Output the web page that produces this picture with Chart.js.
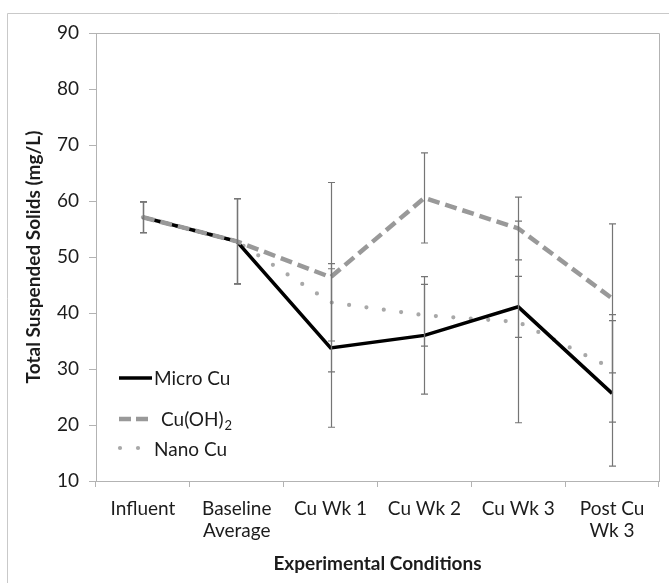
<!DOCTYPE html>
<html>
<head>
<meta charset="utf-8">
<script src="https://cdn.jsdelivr.net/npm/chart.js@4.4.1/dist/chart.umd.min.js"></script>
<style>
  html, body { margin: 0; padding: 0; background: #fff; }
  #wrap { width: 669px; height: 583px; position: relative; }
</style>
</head>
<body>
<div id="wrap"><canvas id="chart" width="669" height="583"></canvas></div>
<script>
// Sampling conditions along the x axis
const categories = ['Influent', ['Baseline', 'Average'], 'Cu Wk 1', 'Cu Wk 2', 'Cu Wk 3', ['Post Cu', 'Wk 3']];

// Mean total suspended solids (mg/L)
const microCu = [57.1, 52.8, 33.75, 36.0, 41.1, 25.65];
const cuOH2   = [57.1, 52.8, 46.4, 60.55, 55.1, 42.6];
const nanoCu  = [57.1, 52.8, 41.9, 39.6, 38.4, 30.1];

// Standard deviations (mg/L)
const microCuErr = [2.75, 7.6, 14.15, 10.5, 5.45, 13.0];
const cuOH2Err   = [2.75, 7.6, 16.9, 8.05, 5.6, 13.3];
const nanoCuErr  = [2.75, 7.6, 6.9, 5.5, 18.0, 9.6];

// Axis ticks
const yMin = 10, yMax = 90, yStep = 10;

const FONT = 'Lato, "Open Sans", sans-serif';
const TEXT = '#1c1c1c';
const AXIS = '#b3b3b3';

// Outer frame plus top/right edges of the plot area
const framePlugin = {
  id: 'frame',
  beforeDraw(chart) {
    const ctx = chart.ctx;
    ctx.save();
    ctx.fillStyle = '#fff';
    ctx.fillRect(0, 0, chart.width, chart.height);
    ctx.strokeStyle = '#c9c9c9';
    ctx.lineWidth = 1;
    ctx.beginPath();
    ctx.moveTo(7.5, chart.height);
    ctx.lineTo(7.5, 13.5);
    ctx.lineTo(chart.width, 13.5);
    ctx.stroke();
    const a = chart.chartArea;
    ctx.strokeStyle = AXIS;
    ctx.beginPath();
    ctx.moveTo(Math.round(a.left) + 0.5, Math.round(a.top) + 0.5);
    ctx.lineTo(Math.round(a.right) + 0.5, Math.round(a.top) + 0.5);
    ctx.lineTo(Math.round(a.right) + 0.5, Math.round(a.bottom) + 0.5);
    ctx.stroke();
    ctx.restore();
  }
};

// Vertical error bars with caps, drawn from each dataset's errors
const errorBarPlugin = {
  id: 'errorBars',
  afterDatasetsDraw(chart) {
    const ctx = chart.ctx;
    const x = chart.scales.x, y = chart.scales.y;
    ctx.save();
    ctx.strokeStyle = '#757575';
    ctx.lineWidth = 1.2;
    chart.data.datasets.forEach(ds => {
      ds.data.forEach((v, i) => {
        const e = ds.errors[i];
        const px = Math.round(x.getPixelForValue(i)) + 0.5;
        const top = y.getPixelForValue(v + e);
        const bot = y.getPixelForValue(v - e);
        ctx.beginPath();
        ctx.moveTo(px, top); ctx.lineTo(px, bot);
        ctx.moveTo(px - 3.5, top); ctx.lineTo(px + 3.5, top);
        ctx.moveTo(px - 3.5, bot); ctx.lineTo(px + 3.5, bot);
        ctx.stroke();
      });
    });
    ctx.restore();
  }
};

// Legend inside the lower-left corner of the plot
const legendPlugin = {
  id: 'innerLegend',
  afterDraw(chart) {
    const ctx = chart.ctx;
    ctx.save();
    ctx.textBaseline = 'middle';
    ctx.fillStyle = TEXT;
    ctx.font = '19px ' + FONT;
    // Micro Cu
    ctx.strokeStyle = '#000';
    ctx.lineWidth = 3.5;
    ctx.beginPath(); ctx.moveTo(119, 378); ctx.lineTo(152, 378); ctx.stroke();
    ctx.fillText('Micro Cu', 154, 379);
    // Cu(OH)2
    ctx.strokeStyle = '#999';
    ctx.lineWidth = 4.5;
    ctx.setLineDash([12, 5]);
    ctx.beginPath(); ctx.moveTo(119, 419); ctx.lineTo(150, 419); ctx.stroke();
    ctx.setLineDash([]);
    ctx.fillText('Cu(OH)', 161, 420);
    const w = ctx.measureText('Cu(OH)').width;
    ctx.font = '13px ' + FONT;
    ctx.fillText('2', 161 + w + 1, 426);
    // Nano Cu
    ctx.font = '19px ' + FONT;
    ctx.fillStyle = '#a8a8a8';
    [120, 138].forEach(cx => { ctx.beginPath(); ctx.arc(cx, 448, 2.1, 0, Math.PI * 2); ctx.fill(); });
    ctx.fillStyle = TEXT;
    ctx.fillText('Nano Cu', 154, 450);
    ctx.restore();
  }
};

new Chart(document.getElementById('chart'), {
  type: 'line',
  data: {
    labels: categories,
    datasets: [
      { label: 'Micro Cu', data: microCu, errors: microCuErr, borderColor: '#000', borderWidth: 3.5,
        pointRadius: 0, tension: 0, fill: false, order: 1 },
      { label: 'Cu(OH)2', data: cuOH2, errors: cuOH2Err, borderColor: '#999', borderWidth: 4.5,
        borderDash: [12, 6], pointRadius: 0, tension: 0, fill: false, order: 0 },
      { label: 'Nano Cu', data: nanoCu, errors: nanoCuErr, borderColor: '#a8a8a8', borderWidth: 4.2,
        borderDash: [0, 17.5], borderCapStyle: 'round', pointRadius: 0, tension: 0, fill: false, order: 2 }
    ]
  },
  options: {
    responsive: false,
    animation: false,
    layout: { padding: { left: 0, top: 33, right: 10, bottom: 0 } },
    plugins: { legend: { display: false }, tooltip: { enabled: false } },
    scales: {
      x: {
        offset: true,
        grid: { display: true, drawOnChartArea: false, offset: true, tickLength: 6, color: AXIS },
        border: { color: AXIS },
        ticks: { font: { family: FONT, size: 19 }, color: TEXT, padding: 10, maxRotation: 0, autoSkip: false },
        title: { display: true, text: 'Experimental Conditions', font: { family: FONT, size: 19, weight: 'bold' },
                 color: TEXT, padding: { top: 0, bottom: 8 } },
        afterFit(s) { s.height = 102; }
      },
      y: {
        min: yMin, max: yMax,
        grid: { display: true, drawOnChartArea: false, tickLength: 7, color: AXIS },
        border: { color: AXIS },
        ticks: { stepSize: yStep, font: { family: FONT, size: 19 }, color: TEXT, padding: 10 },
        title: { display: true, text: 'Total Suspended Solids (mg/L)', font: { family: FONT, size: 19, weight: 'bold' },
                 color: TEXT, padding: { top: 22, bottom: 0 } },
        afterFit(s) { s.width = 96; }
      }
    }
  },
  plugins: [framePlugin, errorBarPlugin, legendPlugin]
});
</script>
</body>
</html>
